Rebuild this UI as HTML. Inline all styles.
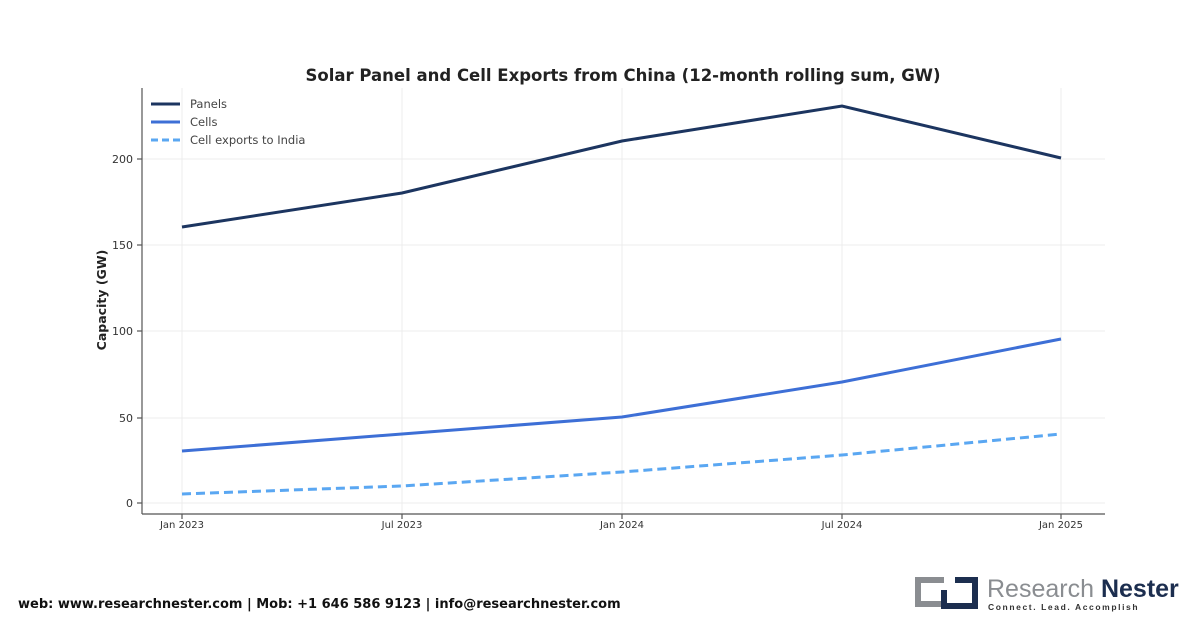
<!DOCTYPE html>
<html><head><meta charset="utf-8"><style>
body{margin:0;background:#fff;width:1200px;height:628px;overflow:hidden;font-family:"DejaVu Sans","Liberation Sans",sans-serif}
</style></head><body>
<svg width="1200" height="628" xmlns="http://www.w3.org/2000/svg" font-family="DejaVu Sans, Liberation Sans, sans-serif">
<rect width="1200" height="628" fill="#fff"/>
<text x="623" y="81" font-size="16.5" font-weight="bold" text-anchor="middle" fill="#222">Solar Panel and Cell Exports from China (12-month rolling sum, GW)</text>
<g stroke="#ececec" stroke-width="1">
<line x1="182" y1="88" x2="182" y2="514"/><line x1="402" y1="88" x2="402" y2="514"/><line x1="622" y1="88" x2="622" y2="514"/><line x1="842" y1="88" x2="842" y2="514"/><line x1="1061" y1="88" x2="1061" y2="514"/>
<line x1="142" y1="503" x2="1105" y2="503"/><line x1="142" y1="418" x2="1105" y2="418"/><line x1="142" y1="331" x2="1105" y2="331"/><line x1="142" y1="245" x2="1105" y2="245"/><line x1="142" y1="159" x2="1105" y2="159"/>
</g>
<g stroke="#555" stroke-width="1.2">
<line x1="142" y1="88" x2="142" y2="514"/><line x1="142" y1="514" x2="1105" y2="514"/>
<line x1="137" y1="503" x2="142" y2="503"/><line x1="137" y1="418" x2="142" y2="418"/><line x1="137" y1="331" x2="142" y2="331"/><line x1="137" y1="245" x2="142" y2="245"/><line x1="137" y1="159" x2="142" y2="159"/>
<line x1="182" y1="514" x2="182" y2="519"/><line x1="402" y1="514" x2="402" y2="519"/><line x1="622" y1="514" x2="622" y2="519"/><line x1="842" y1="514" x2="842" y2="519"/><line x1="1061" y1="514" x2="1061" y2="519"/>
</g>
<g font-size="11" fill="#333" text-anchor="end">
<text x="133" y="507">0</text><text x="133" y="422">50</text><text x="133" y="335">100</text><text x="133" y="249">150</text><text x="133" y="163">200</text>
</g>
<g font-size="10" fill="#333" text-anchor="middle">
<text x="182" y="528">Jan 2023</text><text x="402" y="528">Jul 2023</text><text x="622" y="528">Jan 2024</text><text x="842" y="528">Jul 2024</text><text x="1061" y="528">Jan 2025</text>
</g>
<text transform="translate(106,300) rotate(-90)" font-size="12.5" font-weight="bold" text-anchor="middle" fill="#222">Capacity (GW)</text>
<polyline points="182,227 402,193 622,141 842,106 1061,158" fill="none" stroke="#1c3560" stroke-width="3"/>
<polyline points="182,451 402,434 622,417 842,382 1061,339" fill="none" stroke="#3d6fd6" stroke-width="3"/>
<polyline points="182,494 402,486 622,472 842,455 1061,434" fill="none" stroke="#5aa7f2" stroke-width="3" stroke-dasharray="9,5"/>
<line x1="151" y1="104" x2="180" y2="104" stroke="#1c3560" stroke-width="3"/>
<line x1="151" y1="122" x2="180" y2="122" stroke="#3d6fd6" stroke-width="3"/>
<line x1="151" y1="140" x2="180" y2="140" stroke="#5aa7f2" stroke-width="3" stroke-dasharray="7,4"/>
<g font-size="11.5" fill="#444"><text x="190" y="108">Panels</text><text x="190" y="126">Cells</text><text x="190" y="144">Cell exports to India</text></g>
<text x="18" y="608" font-size="13" font-weight="bold" fill="#111">web: www.researchnester.com | Mob: +1 646 586 9123 | info@researchnester.com</text>
<g fill="none" stroke-width="6">
<path d="M944,580 H918 V604 H944" stroke="#8a8d91"/>
<path d="M944,590 V606 H975 V580 H955" stroke="#1c2e4f"/>
</g>
<text x="987" y="597" font-size="25" fill="#8a8d91" font-family="Liberation Sans, sans-serif">Research <tspan fill="#1c2e4f" font-weight="bold">Nester</tspan></text>
<text x="988" y="610" font-size="8.5" font-weight="bold" fill="#333" letter-spacing="1.6" font-family="Liberation Sans, sans-serif">Connect. Lead. Accomplish</text>
</svg>
</body></html>
